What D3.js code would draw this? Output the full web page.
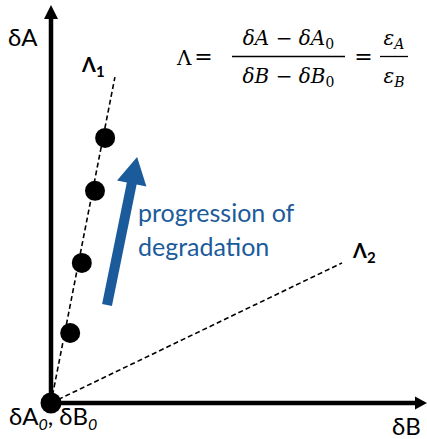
<!DOCTYPE html>
<html><head><meta charset="utf-8">
<script src="https://cdn.jsdelivr.net/npm/d3@7"></script>
<style>body{margin:0;background:#fff}</style>
</head><body><svg id="c" width="427" height="439"></svg>
<script>
// conceptual chart data (arbitrary units)
const xDomain = [0, 100];
const yDomain = [0, 100];
const originPoint = [0, 0];
const pointsX = [5.1, 8.2, 11.7, 14.4];
const pointsY = [17.6, 35.2, 53.3, 66.6];
const lineNames = ["Λ", "Λ"];
const lineSubs = ["1", "2"];
const lineEndX = [17.0, 77.4];
const lineEndY = [81.9, 35.2];
const arrowFrom = [14.9, 24.6];
const arrowTo = [22.9, 61.8];
const annotation = ["progression of", "degradation"];
const axisLabels = ["δA", "δB"];

const W = 427, H = 439;
const svg = d3.select("#c");
const x = d3.scaleLinear().domain(xDomain).range([51, 427]);
const y = d3.scaleLinear().domain(yDomain).range([403, 5]);
const blue = "#1c5b9b";

// axes
const ox = x(0), oy = y(0);
svg.append("line").attr("x1", ox).attr("y1", oy).attr("x2", ox).attr("y2", y(yDomain[1]) + 12)
  .attr("stroke", "#000").attr("stroke-width", 4.5);
svg.append("path").attr("d", `M${ox},${y(yDomain[1])} L${ox - 7},${y(yDomain[1]) + 14} L${ox + 7},${y(yDomain[1]) + 14} Z`).attr("fill", "#000");
svg.append("line").attr("x1", ox).attr("y1", oy).attr("x2", x(xDomain[1]) - 10).attr("y2", oy)
  .attr("stroke", "#000").attr("stroke-width", 4.5);
svg.append("path").attr("d", `M${x(xDomain[1])},${oy} L${x(xDomain[1]) - 12},${oy - 6.5} L${x(xDomain[1]) - 12},${oy + 6.5} Z`).attr("fill", "#000");

// dashed lines
lineEndX.forEach((ex, i) => {
  svg.append("line").attr("x1", x(originPoint[0])).attr("y1", y(originPoint[1]))
    .attr("x2", x(ex)).attr("y2", y(lineEndY[i]))
    .attr("stroke", "#000").attr("stroke-width", 1.6).attr("stroke-dasharray", "5,3");
});

// dots
svg.selectAll("circle.pt").data(pointsX).join("circle").attr("class", "pt")
  .attr("cx", (d) => x(d)).attr("cy", (d, i) => y(pointsY[i])).attr("r", 10).attr("fill", "#000");
svg.append("circle").attr("cx", x(originPoint[0])).attr("cy", y(originPoint[1])).attr("r", 10.5).attr("fill", "#000");

// blue arrow
{
  const x0 = x(arrowFrom[0]), y0 = y(arrowFrom[1]), x1 = x(arrowTo[0]), y1 = y(arrowTo[1]);
  const L = Math.hypot(x1 - x0, y1 - y0), ux = (x1 - x0) / L, uy = (y1 - y0) / L;
  const nx = -uy, ny = ux;
  const hw = 5, headL = 27, headW = 15;
  const bx = x1 - ux * headL, by = y1 - uy * headL;
  const pts = [
    [x0 + nx * hw, y0 + ny * hw], [bx + nx * hw, by + ny * hw], [bx + nx * headW, by + ny * headW],
    [x1, y1], [bx - nx * headW, by - ny * headW], [bx - nx * hw, by - ny * hw], [x0 - nx * hw, y0 - ny * hw]
  ];
  svg.append("path").attr("d", "M" + pts.map(p => p.join(",")).join("L") + "Z").attr("fill", blue);
}

// annotation text
svg.append("text").attr("x", 138).attr("y", 222).attr("fill", blue)
  .attr("font-family", "Lato").attr("font-size", 25).text(annotation[0]);
svg.append("text").attr("x", 138).attr("y", 256).attr("fill", blue)
  .attr("font-family", "Lato").attr("font-size", 25).text(annotation[1]);

// line labels
const labPos = [[82, 72], [353, 258]];
lineNames.forEach((n, i) => {
  const t = svg.append("text").attr("x", labPos[i][0]).attr("y", labPos[i][1])
    .attr("font-family", "Lato").attr("font-weight", "bold").attr("font-size", 20);
  t.append("tspan").text(n);
  t.append("tspan").attr("font-size", 15).attr("dy", 5).text(lineSubs[i]);
});

// axis labels
svg.append("text").attr("x", 8).attr("y", 46).attr("font-family", "Lato").attr("font-size", 24).text(axisLabels[0]);
svg.append("text").attr("x", 392).attr("y", 435).attr("font-family", "Lato").attr("font-size", 24).text(axisLabels[1]);
{
  const t = svg.append("text").attr("x", 9).attr("y", 425).attr("font-family", "Lato").attr("font-size", 24);
  t.append("tspan").text("δA");
  t.append("tspan").attr("font-size", 16).attr("font-style", "italic").attr("dy", 5).text("0");
  t.append("tspan").attr("dy", -5).text(", δB");
  t.append("tspan").attr("font-size", 16).attr("font-style", "italic").attr("dy", 5).text("0");
}

// equation
const ef = "DejaVu Serif", es = 20;
svg.append("text").attr("x", 177).attr("y", 65).attr("font-family", ef).attr("font-size", es).text("Λ");
svg.append("text").attr("x", 203.5).attr("y", 64).attr("text-anchor", "middle").attr("font-family", ef).attr("font-size", es + 2).text("=");
svg.append("text").attr("x", 363.5).attr("y", 64).attr("text-anchor", "middle").attr("font-family", ef).attr("font-size", es + 2).text("=");
function frac(cx, yy, parts) {
  const t = svg.append("text").attr("x", cx).attr("y", yy).attr("text-anchor", "middle").attr("font-family", ef).attr("font-size", es);
  parts.forEach(p => {
    const s = t.append("tspan").text(p[0]);
    if (p[1] === "i") s.attr("font-style", "italic");
    if (p[1] === "sub") s.attr("font-size", 14).attr("dy", 4);
    if (p[1] === "subi") s.attr("font-size", 14).attr("dy", 4).attr("font-style", "italic");
  });
}
frac(288.5, 45, [["δA", "i"], [" − ", ""], ["δA", "i"], ["0", "sub"]]);
frac(288.5, 83, [["δB", "i"], [" − ", ""], ["δB", "i"], ["0", "sub"]]);
frac(394, 45, [["ε", "i"], ["A", "subi"]]);
frac(394, 83, [["ε", "i"], ["B", "subi"]]);
svg.append("line").attr("x1", 232).attr("x2", 345).attr("y1", 56.5).attr("y2", 56.5).attr("stroke", "#000").attr("stroke-width", 1.3);
svg.append("line").attr("x1", 380).attr("x2", 408).attr("y1", 56.5).attr("y2", 56.5).attr("stroke", "#000").attr("stroke-width", 1.3);
</script></body></html>
